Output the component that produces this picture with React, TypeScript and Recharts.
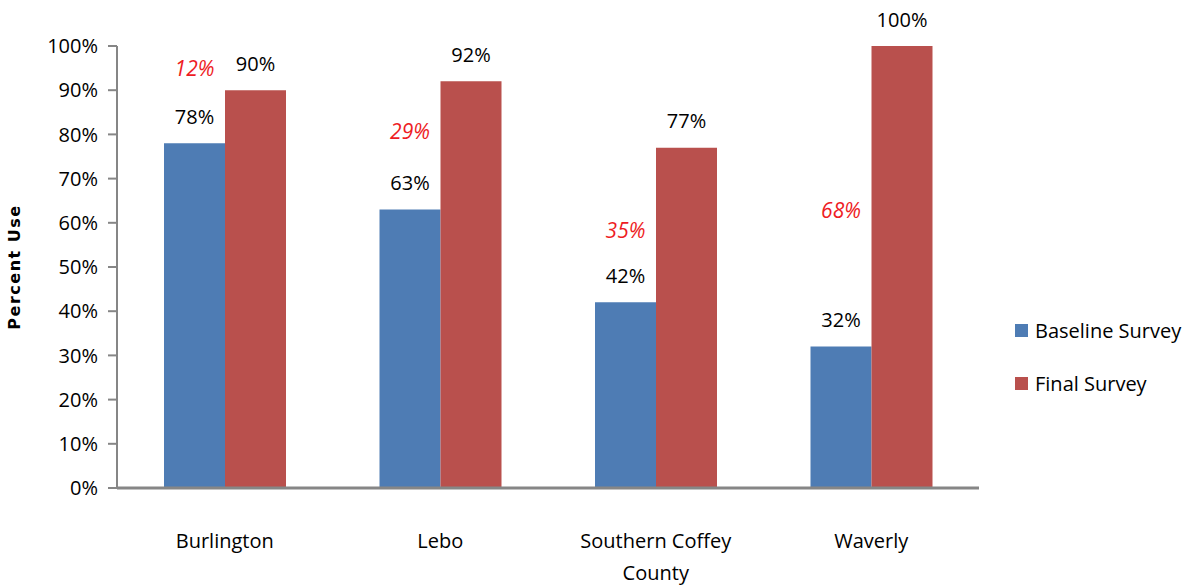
import React from "react";
import { Bar, BarChart, LabelList, XAxis, YAxis } from "recharts";

const categories = ["Burlington", "Lebo", "Southern Coffey County", "Waverly"];
const baselineSurvey = [78, 63, 42, 32];
const finalSurvey = [90, 92, 77, 100];
const increase = [12, 29, 35, 68];
const yTicks = [0, 10, 20, 30, 40, 50, 60, 70, 80, 90, 100];

// how far above the blue bar the red increase label sits (px)
const increaseLift = [75, 79, 72, 137];

const data = categories.map((name, i) => ({
  name,
  baseline: baselineSurvey[i],
  final: finalSurvey[i],
  increase: increase[i],
}));

const FONT = "'Open Sans', sans-serif";
const BLUE = "#4E7CB4";
const RED = "#B9504D";
const AXIS = "#868686";

function wrap(label: string, max = 16): string[] {
  const words = label.split(" ");
  const lines: string[] = [];
  let cur = "";
  words.forEach((w) => {
    const next = cur ? cur + " " + w : w;
    if (next.length > max && cur) {
      lines.push(cur);
      cur = w;
    } else cur = next;
  });
  if (cur) lines.push(cur);
  return lines;
}

const CategoryTick = (props: any) => {
  const { x, y, payload } = props;
  const lines = wrap(payload.value);
  return (
    <g>
      {lines.map((line, i) => (
        <text
          key={i}
          x={x}
          y={y + 58 + i * 32}
          textAnchor="middle"
          fontFamily={FONT}
          fontSize={20}
          fill="#000"
        >
          {line}
        </text>
      ))}
    </g>
  );
};

const BaselineLabel = (props: any) => {
  const { x, y, width, value, index } = props;
  const cx = x + width / 2;
  return (
    <g>
      <text
        x={cx}
        y={y - 27}
        textAnchor="middle"
        dominantBaseline="central"
        fontFamily={FONT}
        fontSize={20}
        fill="#000"
      >
        {value}%
      </text>
      <text
        x={cx}
        y={y - increaseLift[index]}
        textAnchor="middle"
        dominantBaseline="central"
        fontFamily={FONT}
        fontSize={21}
        fontStyle="italic"
        fill="#EE1C24"
      >
        {data[index].increase}%
      </text>
    </g>
  );
};

const FinalLabel = (props: any) => {
  const { x, y, width, value } = props;
  return (
    <text
      x={x + width / 2}
      y={y - 27}
      textAnchor="middle"
      dominantBaseline="central"
      fontFamily={FONT}
      fontSize={20}
      fill="#000"
    >
      {value}%
    </text>
  );
};

const legendItems = [
  { label: "Baseline Survey", color: BLUE },
  { label: "Final Survey", color: RED },
];

export default function App(): React.ReactElement {
  return (
    <div
      style={{
        position: "absolute",
        left: 0,
        top: 0,
        width: 1187,
        height: 588,
        background: "#fff",
      }}
    >
      <BarChart
        width={1187}
        height={588}
        data={data}
        margin={{ top: 46, right: 208, bottom: 70, left: 0 }}
        barGap={0}
        barSize={61}
      >
        <XAxis
          dataKey="name"
          height={30}
          tick={<CategoryTick />}
          tickLine={false}
          tickSize={0}
          axisLine={{ stroke: AXIS, strokeWidth: 3 }}
          interval={0}
        />
        <YAxis
          width={117}
          domain={[0, 100]}
          ticks={yTicks}
          interval={0}
          tickFormatter={(v) => `${v}%`}
          tick={{ fontFamily: FONT, fontSize: 20, fill: "#000" }}
          tickSize={9}
          tickMargin={10}
          tickLine={{ stroke: AXIS, strokeWidth: 2 }}
          axisLine={{ stroke: AXIS, strokeWidth: 2 }}
          label={{
            value: "Percent Use",
            angle: -90,
            position: "insideLeft",
            offset: 14,
            style: {
              fontFamily: "'DejaVu Sans', sans-serif",
              fontWeight: "bold",
              fontSize: 16,
              letterSpacing: 1.5,
              fill: "#000",
              textAnchor: "middle",
            },
          }}
        />
        <Bar
          dataKey="baseline"
          name="Baseline Survey"
          fill={BLUE}
          isAnimationActive={false}
        >
          <LabelList dataKey="baseline" content={<BaselineLabel />} />
        </Bar>
        <Bar
          dataKey="final"
          name="Final Survey"
          fill={RED}
          isAnimationActive={false}
        >
          <LabelList dataKey="final" content={<FinalLabel />} />
        </Bar>
      </BarChart>
      <div
        style={{
          position: "absolute",
          left: 1015,
          top: 304,
          fontFamily: FONT,
          fontSize: 20,
          color: "#000",
        }}
      >
        {legendItems.map((item) => (
          <div
            key={item.label}
            style={{ display: "flex", alignItems: "center", height: 53 }}
          >
            <span
              style={{
                width: 13,
                height: 13,
                background: item.color,
                display: "inline-block",
                marginRight: 7,
              }}
            />
            <span>{item.label}</span>
          </div>
        ))}
      </div>
    </div>
  );
}
